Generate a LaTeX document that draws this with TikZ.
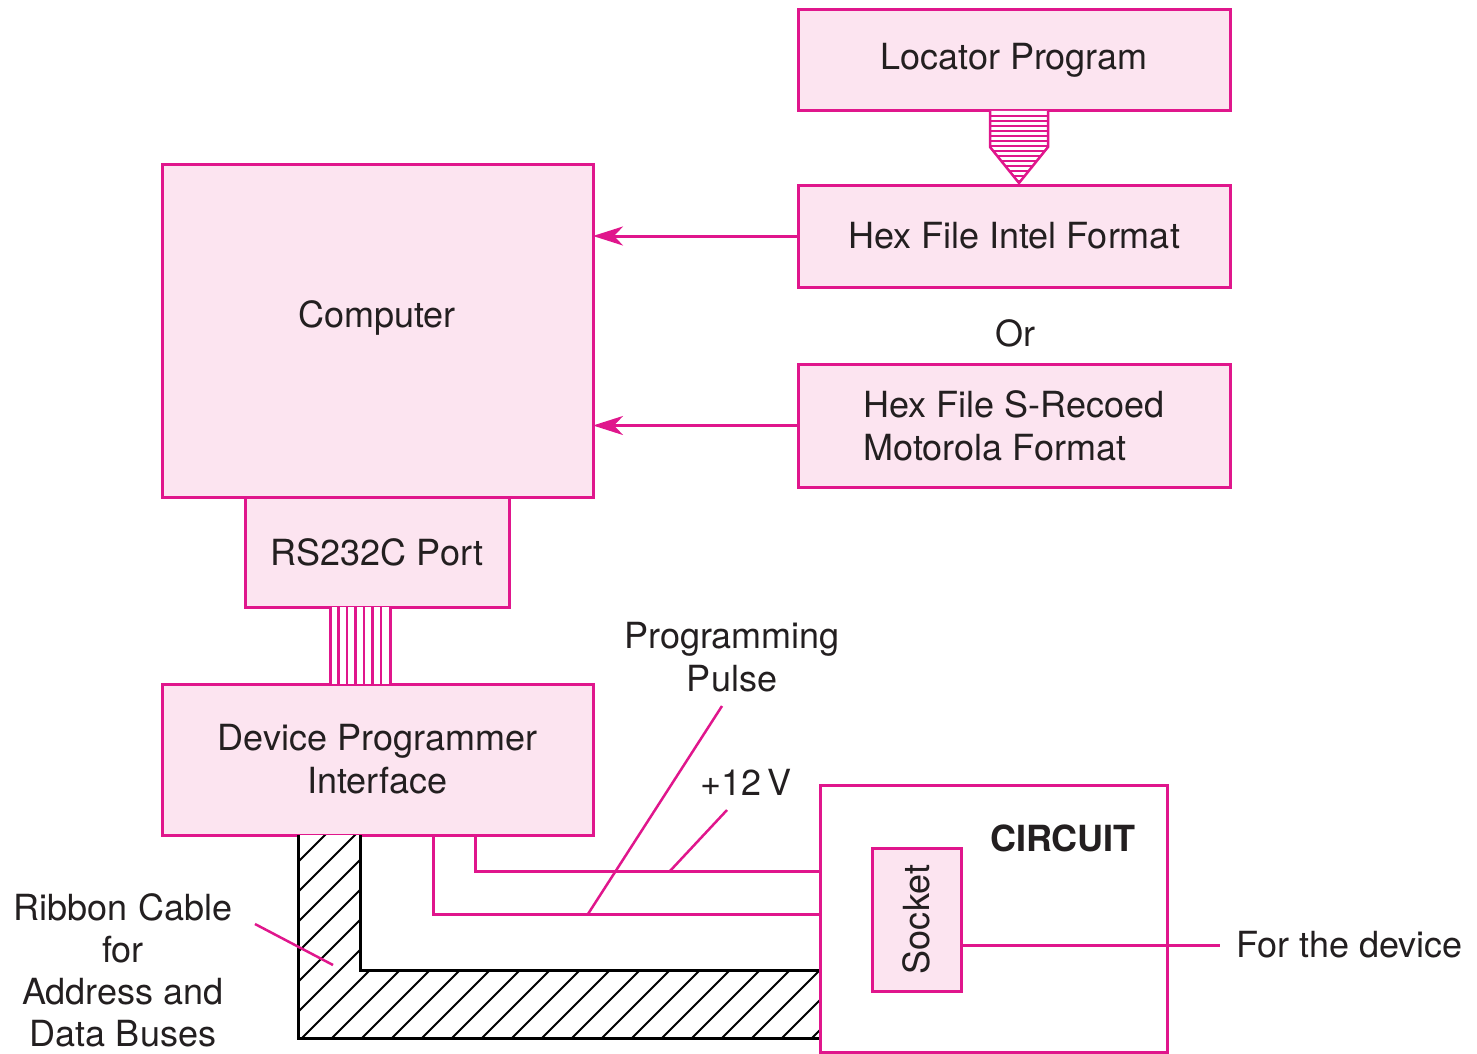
\documentclass[tikz,border=0pt]{standalone}
\usepackage{fontspec}
\setmainfont{TeX Gyre Heros}
\usetikzlibrary{arrows.meta}
\definecolor{pmagenta}{HTML}{E0168C}
\definecolor{ppink}{HTML}{FCE4F0}
\definecolor{ptext}{HTML}{231F20}
\begin{document}
\begin{tikzpicture}[x=1pt, y=-1pt,
  every node/.style={font=\fontsize{36}{43}\selectfont},
  box/.style={draw=pmagenta, fill=ppink, line width=3pt, inner sep=0pt, outer sep=0pt, align=center, text=ptext},
  arr/.style={draw=pmagenta, line width=3pt, -{Stealth[length=30pt, width=19pt, inset=9pt]}},
  wire/.style={draw=pmagenta, line width=3pt},
  lead/.style={draw=pmagenta, line width=2.5pt},
  lbl/.style={text=ptext, align=center, inner sep=0pt},
]
  \useasboundingbox (0,0) rectangle (1477,1054);

  % boxes
  \node[box, minimum width=432pt, minimum height=101pt] (locator) at (1014,60.5) {Locator Program};
  \node[box, minimum width=432pt, minimum height=102pt] (intel) at (1014,236) {Hex File Intel Format};
  \node[lbl] (or) at (1015,333) {Or};
  \node[box, minimum width=432pt, minimum height=123pt, align=left] (srec) at (1014,425.5) {Hex File S-Recoed\\Motorola Format};
  \node[box, minimum width=431pt, minimum height=333pt] (comp) at (377.5,330.5) {};
  \node[lbl] (comptxt) at (377,318) {Computer};
  \node[box, minimum width=264pt, minimum height=110pt] (port) at (377,552) {RS232C Port};
  \node[box, minimum width=431pt, minimum height=151pt] (dpi) at (377.5,759.5) {Device Programmer\\Interface};

  % striped funnel
  \begin{scope}
    \clip (990,111) -- (990,147) -- (1019,183) -- (1048,147) -- (1048,111) -- cycle;
    \fill[white] (980,100) rectangle (1060,190);
    \foreach \y in {116,121,...,182}
      \draw[pmagenta, line width=2.2pt] (985,\y) -- (1055,\y);
  \end{scope}
  \draw[pmagenta, line width=2.5pt] (990,111) -- (990,147) -- (1019,183) -- (1048,147) -- (1048,111);

  % flat cable between port and interface
  \fill[white] (330,607) rectangle (390,684);
  \foreach \x in {338.5,347,355.5,364,372.5,381}
    \draw[pmagenta, line width=2.2pt] (\x,607) -- (\x,684);
  \draw[pmagenta, line width=3pt] (330,607) -- (330,684) (390,607) -- (390,684);

  % arrows into the computer
  \draw[arr] (intel.west) -- (comp.east |- intel.west);
  \draw[arr] (srec.west) -- (comp.east |- srec.west);

  % ribbon cable
  \begin{scope}
    \clip (298,835) -- (298,1038) -- (820,1038) -- (820,970) -- (360,970) -- (360,835) -- cycle;
    \fill[white] (290,830) rectangle (830,1045);
    \foreach \x in {0,30,...,840}
      \draw[black, line width=2pt] (\x,1040) -- (\x+320,720);
  \end{scope}
  \draw[black, line width=3pt] (298,835) -- (298,1038) -- (820,1038);
  \draw[black, line width=3pt] (360,835) -- (360,970) -- (820,970);

  % circuit
  \node[box, fill=white, minimum width=347pt, minimum height=267pt] (circuit) at (993.5,918.5) {};
  \node[lbl, font=\fontsize{36}{43}\selectfont\bfseries] (circtxt) at (1063,838) {CIRCUIT};
  \node[box, minimum width=89pt, minimum height=143pt] (socket) at (916.5,919.5) {\rotatebox{90}{Socket}};

  % wires from interface
  \draw[wire] (dpi.south -| 475,0) |- (circuit.west |- 0,871);
  \draw[wire] (dpi.south -| 433,0) |- (circuit.west |- 0,914);

  % labels
  \node[lbl] (pulse) at (732,657) {Programming\\Pulse};
  \node[lbl] (volt) at (746,782) {+12\,V};
  \node[lbl, font=\fontsize{36}{42}\selectfont] (ribbon) at (123,970) {Ribbon Cable\\for\\Address and\\Data Buses};
  \node[lbl, anchor=west] (dev) at (1236,945) {For the device};

  \coordinate (pulseend) at (588,914);
  \coordinate (voltend) at (670,871);
  \coordinate (ribbonend) at (333,965);
  \draw[lead] (722,706) -- (pulseend);
  \draw[lead] (727,810) -- (voltend);
  \draw[lead] (255,924) -- (ribbonend);
  \draw[wire] (socket.east |- dev.west) -- ([xshift=-16pt]dev.west);
\end{tikzpicture}
\end{document}
